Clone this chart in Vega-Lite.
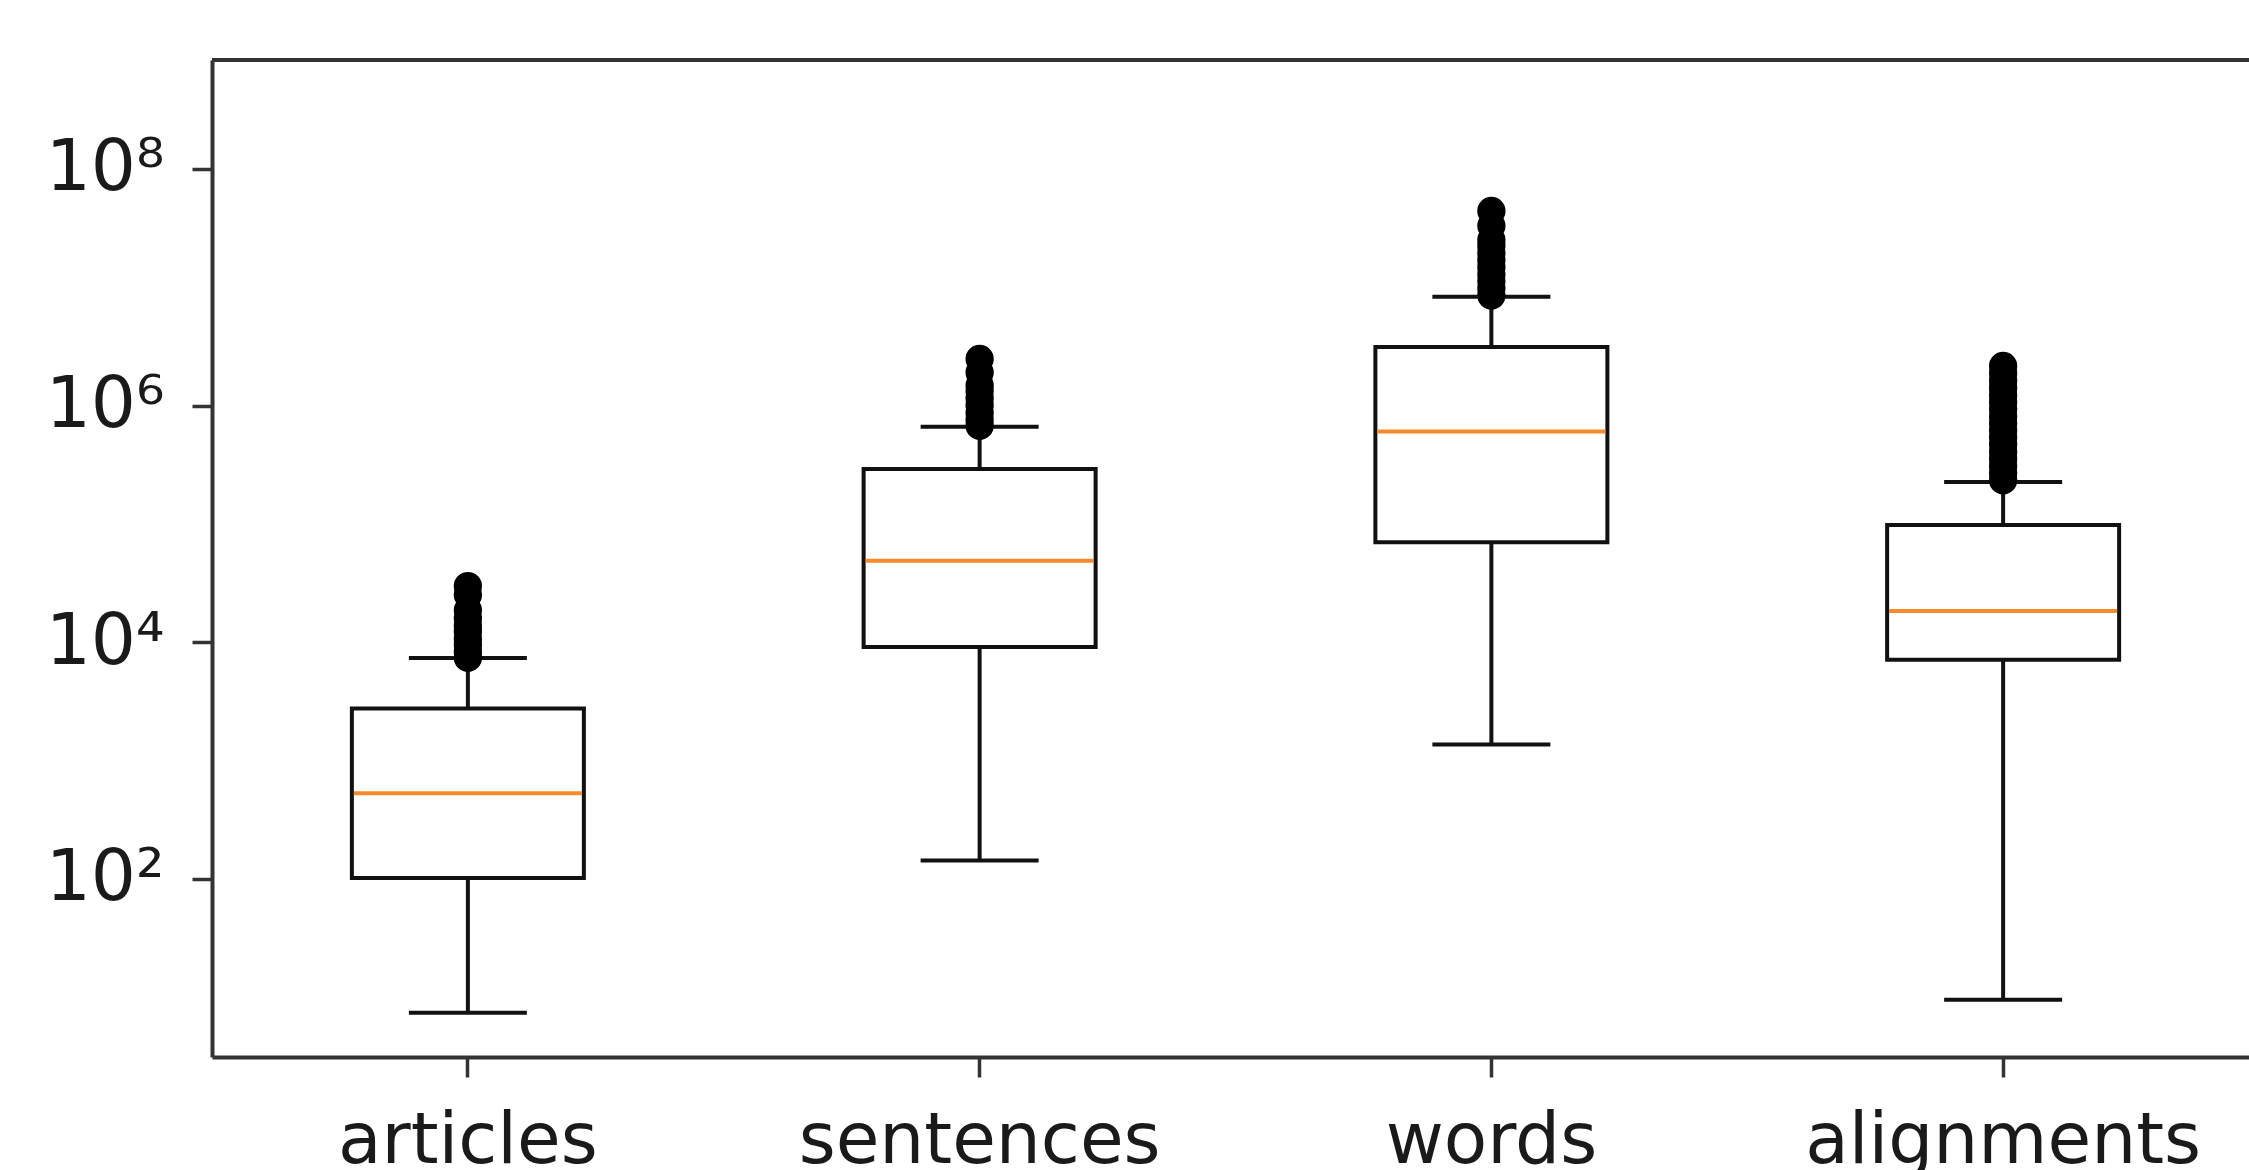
{
  "$schema": "https://vega.github.io/schema/vega-lite/v6.json",
  "width": 2037,
  "height": 997,
  "autosize": {"type": "none"},
  "padding": {"left": 212, "top": 60, "right": 0, "bottom": 113},
  "background": "white",
  "config": {
    "view": {"stroke": null},
    "font": "DejaVu Sans",
    "axis": {
      "grid": false,
      "domainColor": "#333333",
      "domainWidth": 4,
      "tickColor": "#333333",
      "tickWidth": 3.5,
      "tickSize": 20,
      "labelFont": "DejaVu Sans",
      "labelFontSize": 71,
      "labelColor": "#1a1a1a",
      "labelLimit": 0,
      "title": null
    }
  },
  "datasets": {
    "stats": [
      {"name": "articles", "lo": 7.4, "q1": 102, "med": 531, "q3": 2760, "hi": 7360},
      {"name": "sentences", "lo": 143, "q1": 9140, "med": 48870, "q3": 291700, "hi": 660700},
      {"name": "words", "lo": 1371, "q1": 70150, "med": 602600, "q3": 3126000, "hi": 8320000},
      {"name": "alignments", "lo": 9.55, "q1": 7112, "med": 18400, "q3": 98000, "hi": 226500}
    ],
    "outliers": [
      {"name": "articles", "v": 7413}, {"name": "articles", "v": 8318}, {"name": "articles", "v": 9550},
      {"name": "articles", "v": 10715}, {"name": "articles", "v": 12303}, {"name": "articles", "v": 13804},
      {"name": "articles", "v": 15849}, {"name": "articles", "v": 18621}, {"name": "articles", "v": 25119},
      {"name": "articles", "v": 29854},
      {"name": "sentences", "v": 676083}, {"name": "sentences", "v": 758578}, {"name": "sentences", "v": 870964},
      {"name": "sentences", "v": 1000000}, {"name": "sentences", "v": 1148154}, {"name": "sentences", "v": 1318257},
      {"name": "sentences", "v": 1479108}, {"name": "sentences", "v": 1905461}, {"name": "sentences", "v": 2477422},
      {"name": "words", "v": 8511380}, {"name": "words", "v": 9772372}, {"name": "words", "v": 11220185},
      {"name": "words", "v": 12882496}, {"name": "words", "v": 14791084}, {"name": "words", "v": 16982437},
      {"name": "words", "v": 19498446}, {"name": "words", "v": 22387211}, {"name": "words", "v": 25118864},
      {"name": "words", "v": 33113112}, {"name": "words", "v": 44157045},
      {"name": "alignments", "v": 234423}, {"name": "alignments", "v": 269153}, {"name": "alignments", "v": 309030},
      {"name": "alignments", "v": 354813}, {"name": "alignments", "v": 407380}, {"name": "alignments", "v": 467735},
      {"name": "alignments", "v": 537032}, {"name": "alignments", "v": 616595}, {"name": "alignments", "v": 707946},
      {"name": "alignments", "v": 812831}, {"name": "alignments", "v": 933254}, {"name": "alignments", "v": 1071519},
      {"name": "alignments", "v": 1230269}, {"name": "alignments", "v": 1412538}, {"name": "alignments", "v": 1621810},
      {"name": "alignments", "v": 1862087}, {"name": "alignments", "v": 2162719}
    ]
  },
  "layer": [
    {
      "data": {"name": "stats"},
      "mark": {"type": "rule", "color": "#111111", "strokeWidth": 4},
      "encoding": {
        "x": {
          "field": "name",
          "type": "nominal",
          "scale": {"domain": ["articles", "sentences", "words", "alignments"], "range": [0, 2047], "paddingInner": 0, "paddingOuter": 0},
          "axis": {"labelAngle": 0, "labelPadding": 29, "labelBaseline": "top", "labelLimit": 0, "title": null}
        },
        "y": {
          "field": "lo",
          "type": "quantitative",
          "scale": {"type": "log", "domain": [3.13, 831763771], "nice": false, "zero": false},
          "axis": {
            "values": [100, 10000, 1000000, 100000000],
            "labelExpr": "datum.value == 100 ? '10²' : datum.value == 10000 ? '10⁴' : datum.value == 1000000 ? '10⁶' : '10⁸'",
            "labelPadding": 28,
            "labelDy": 19,
            "title": null
          }
        },
        "y2": {"field": "q1"}
      }
    },
    {
      "data": {"name": "stats"},
      "mark": {"type": "rule", "color": "#111111", "strokeWidth": 4},
      "encoding": {
        "x": {"field": "name", "type": "nominal"},
        "y": {"field": "q3", "type": "quantitative"},
        "y2": {"field": "hi"}
      }
    },
    {
      "data": {"name": "stats"},
      "mark": {"type": "bar", "fill": "white", "stroke": "#111111", "strokeWidth": 4, "width": 232},
      "encoding": {
        "x": {"field": "name", "type": "nominal"},
        "y": {"field": "q1", "type": "quantitative"},
        "y2": {"field": "q3"}
      }
    },
    {
      "data": {"name": "stats"},
      "mark": {"type": "tick", "color": "#f68a2c", "thickness": 4, "size": 228, "opacity": 1},
      "encoding": {
        "x": {"field": "name", "type": "nominal"},
        "y": {"field": "med", "type": "quantitative"}
      }
    },
    {
      "data": {"name": "stats"},
      "mark": {"type": "tick", "color": "#111111", "thickness": 4, "size": 118, "opacity": 1},
      "encoding": {
        "x": {"field": "name", "type": "nominal"},
        "y": {"field": "lo", "type": "quantitative"}
      }
    },
    {
      "data": {"name": "stats"},
      "mark": {"type": "tick", "color": "#111111", "thickness": 4, "size": 118, "opacity": 1},
      "encoding": {
        "x": {"field": "name", "type": "nominal"},
        "y": {"field": "hi", "type": "quantitative"}
      }
    },
    {
      "data": {"name": "outliers"},
      "mark": {"type": "point", "filled": true, "shape": "circle", "color": "black", "size": 800, "opacity": 1},
      "encoding": {
        "x": {"field": "name", "type": "nominal"},
        "y": {"field": "v", "type": "quantitative"}
      }
    },
    {
      "data": {"values": [{"top": 831763771}]},
      "mark": {"type": "rule", "color": "#333333", "strokeWidth": 4},
      "encoding": {
        "y": {"field": "top", "type": "quantitative"}
      }
    }
  ]
}
